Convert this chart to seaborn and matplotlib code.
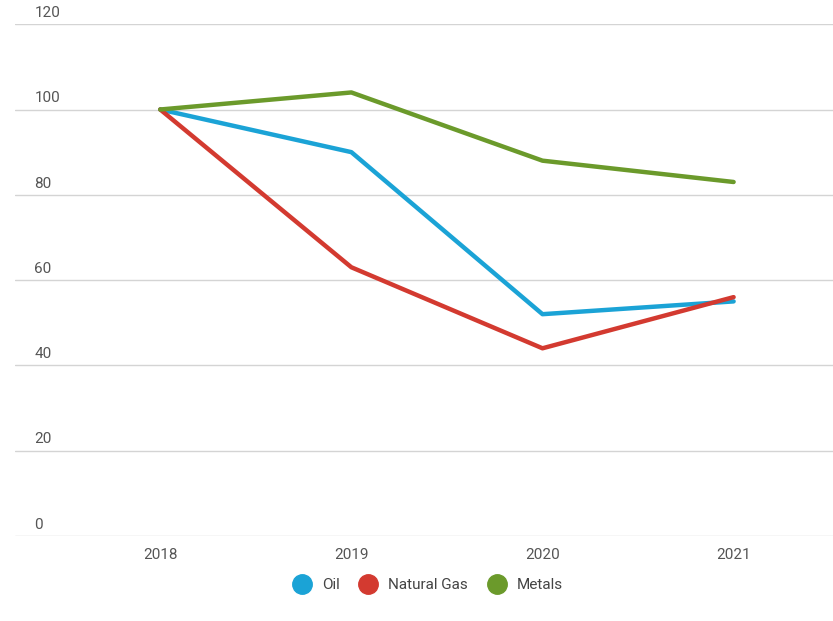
import matplotlib.pyplot as plt
import matplotlib.transforms as mtransforms
from matplotlib.lines import Line2D
import pandas as pd
import seaborn as sns

years = [2018, 2019, 2020, 2021]
oil = [100, 90, 52, 55]
natural_gas = [100, 63, 44, 56]
metals = [100, 104, 88, 83]
series = ["Oil", "Natural Gas", "Metals"]
colors = ["#1ba3d6", "#d33a30", "#6b9a2b"]

sns.set_theme(style="white")
plt.rcParams["font.family"] = ["Roboto", "DejaVu Sans"]

df = pd.DataFrame({
    "Year": years * 3,
    "Value": oil + natural_gas + metals,
    "Series": [s for s in series for _ in years],
})

fig = plt.figure(figsize=(8.33, 6.21), dpi=100)
ax = fig.add_axes([0.018, 0.137, 0.982, 0.824])

sns.lineplot(data=df, x="Year", y="Value", hue="Series", palette=colors,
             hue_order=series, linewidth=3.2, legend=False, ax=ax)

ax.set_xlim(2018 - 0.76, 2021 + 0.52)
ax.set_ylim(0, 120)
ax.set_xticks(years)
ax.set_xticklabels([str(y) for y in years])
ax.set_yticks(range(0, 121, 20))
ax.grid(axis="y", color="#d4d4d4", linewidth=1)
ax.set_axisbelow(True)
for side in ["top", "right", "left", "bottom"]:
    ax.spines[side].set_visible(False)
ax.set_xlabel("")
ax.set_ylabel("")
ax.tick_params(axis="x", length=0, pad=9, labelsize=11, labelcolor="#555555")
ax.tick_params(axis="y", length=0, pad=-14, labelsize=11, labelcolor="#555555")

offset = mtransforms.ScaledTranslation(0, 3 / 72, fig.dpi_scale_trans)
for label in ax.get_yticklabels():
    label.set_horizontalalignment("left")
    label.set_verticalalignment("bottom")
    label.set_transform(label.get_transform() + offset)

handles = [Line2D([], [], marker="o", linestyle="", markersize=14,
                  markerfacecolor=c, markeredgecolor=c) for c in colors]
fig.legend(handles, series, loc="center", bbox_to_anchor=(0.51, 0.058),
           ncol=3, frameon=False, fontsize=11, handletextpad=0.3,
           columnspacing=0.9, labelcolor="#444444")

fig.savefig("out.png", dpi=100)
